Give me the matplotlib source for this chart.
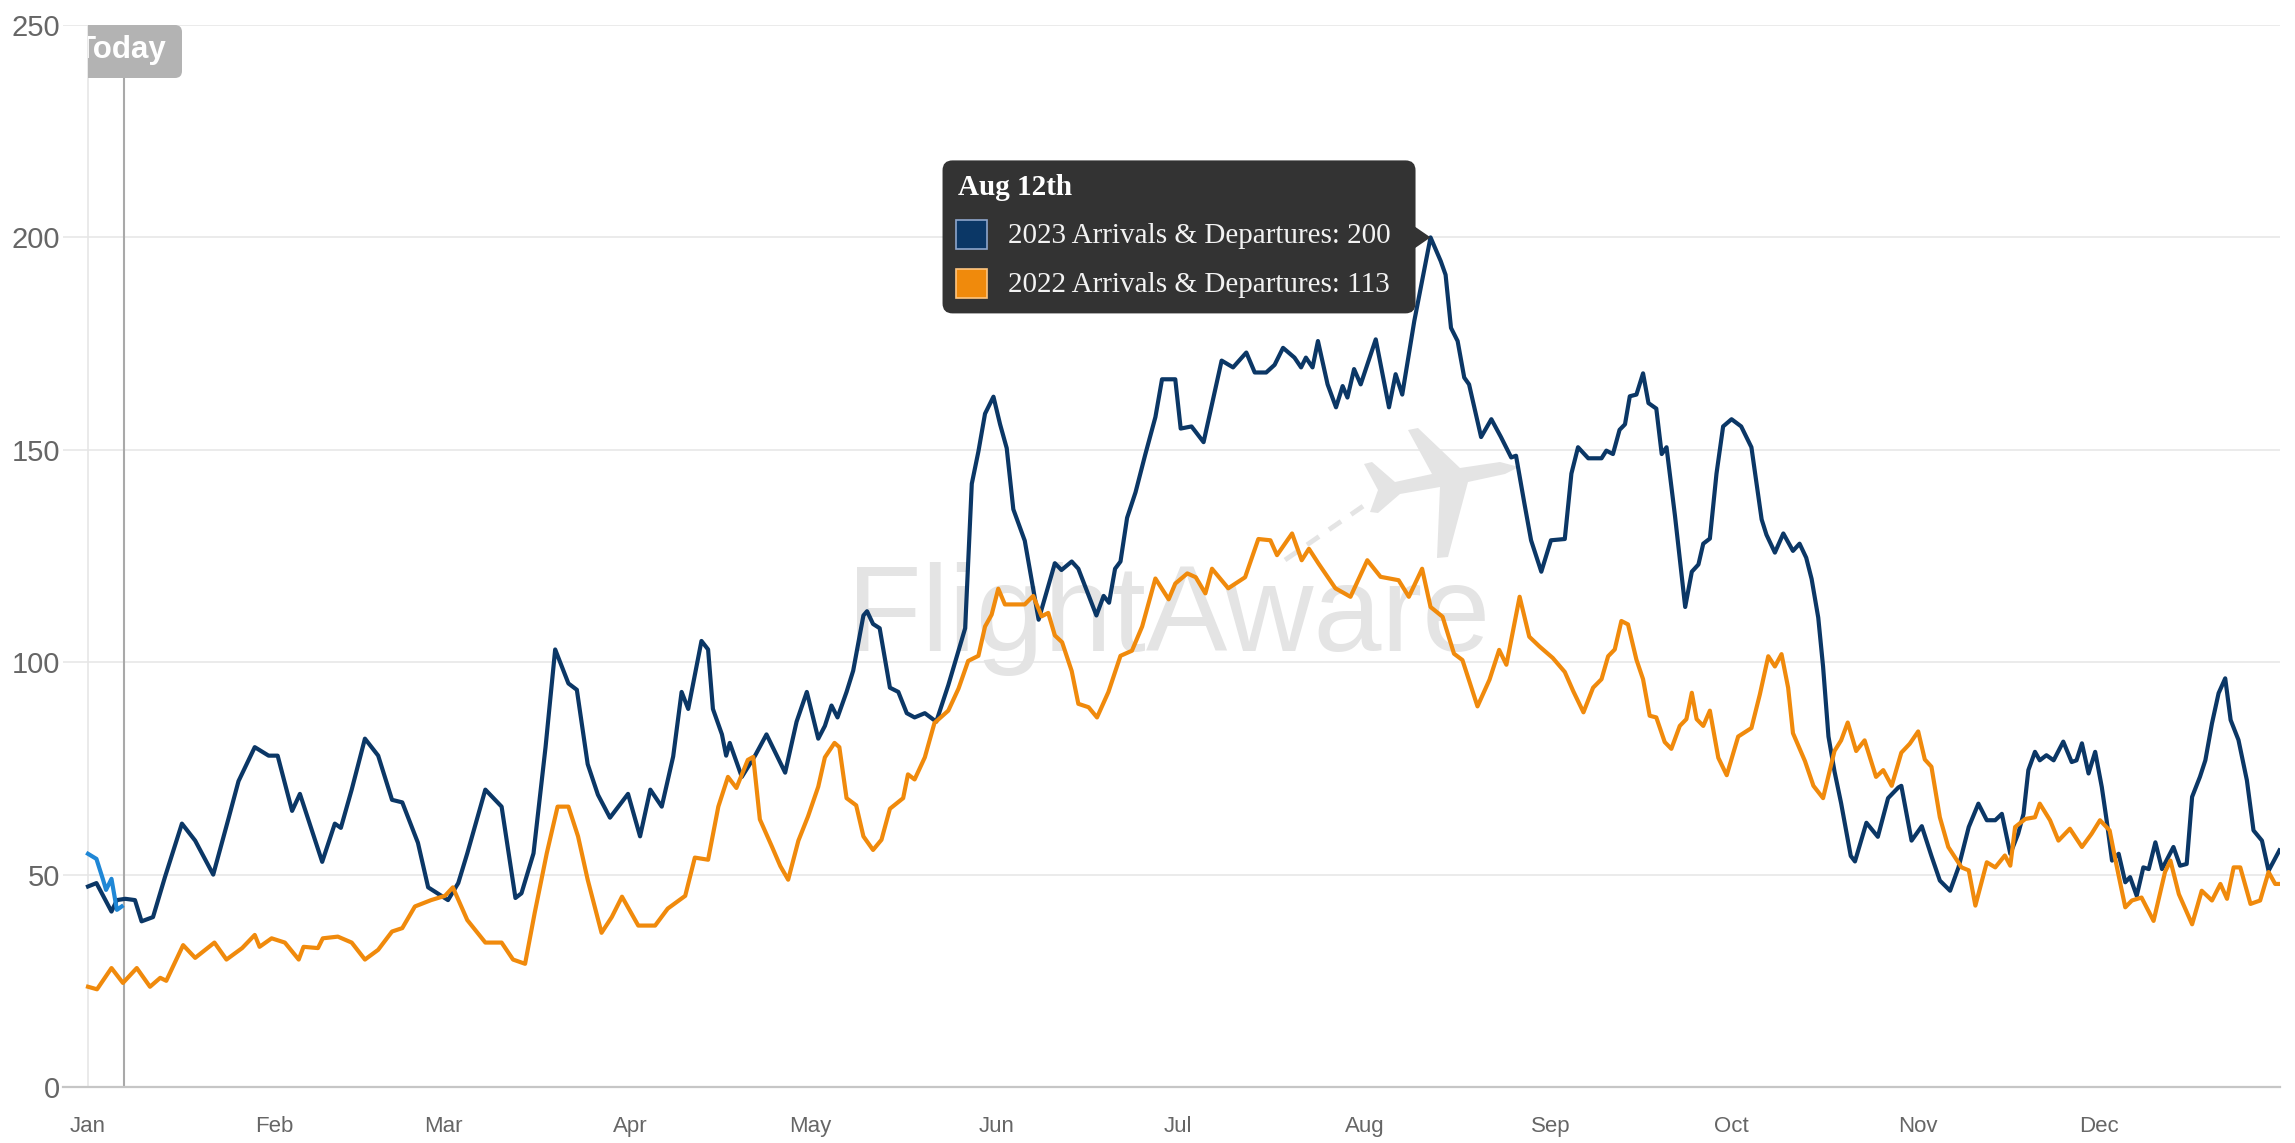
import matplotlib
matplotlib.use('Agg')
import matplotlib.pyplot as plt
from matplotlib.patches import FancyBboxPatch, Polygon, Rectangle
from matplotlib.lines import Line2D
from matplotlib.transforms import IdentityTransform, Bbox

W, H = 2295, 1143
DPI = 100

month_labels = ['Jan', 'Feb', 'Mar', 'Apr', 'May', 'Jun',
                'Jul', 'Aug', 'Sep', 'Oct', 'Nov', 'Dec']
month_starts = [0, 31, 59, 90, 120, 151, 181, 212, 243, 273, 304, 334]
y_ticks = [0, 50, 100, 150, 200, 250]

# 2023 arrivals & departures (day of year, count)
days_2023 = [0, 1.4, 3.9, 4.8, 6.2, 7.8, 8.9, 10.8, 12.8, 15.6, 17.8, 20.8, 23.3, 25, 27.7, 30, 31.5,
             33.9, 35.2, 38.9, 41, 42, 43.8, 46, 48.2, 50.5, 52.2, 54.8, 56.5, 59.8, 61.5, 63, 66,
             68.7, 71, 72, 74, 76, 77.6, 79.8, 81.2, 83, 84.7, 86.7, 89.7, 91.7, 93.4, 95.3, 97.2,
             98.6, 99.7, 101.9, 103, 103.8, 105.3, 106, 106.6, 108.6, 110.8, 112.7, 115.8, 117.7,
             119.4, 121.3, 122.4, 123.5, 124.5, 126, 127.1, 128.8, 129.4, 130.4, 131.5, 133.2,
             134.6, 136, 137.3, 139, 140.9, 142.9, 144.6, 145.7, 146.8, 147.9, 149, 150.4, 151.5,
             152.6, 153.7, 155.6, 157.9, 160.6, 161.7, 163.4, 164.5, 167.5, 168.7, 169.6, 170.6,
             171.5, 172.6, 174, 175.6, 177.3, 178.4, 180.6, 181.5, 183.3, 185.3, 186.7, 188.3,
             190.2, 192.4, 193.8, 195.7, 197.1, 198.5, 200.4, 201.5, 202.3, 203.4, 204.3, 205.9,
             207.3, 208.4, 209.2, 210.3, 211.4, 213.9, 216.1, 217.2, 218.3, 220.3, 221.9, 223,
             224.7, 225.5, 226.4, 227.5, 228.6, 229.4, 231.4, 233.1, 234.7, 236.4, 237.2, 238.6,
             239.7, 241.4, 243, 245.3, 246.4, 247.5, 249.2, 251.4, 252.2, 253.3, 254.4, 255.3,
             256.1, 257.2, 258.3, 259.2, 260.5, 261.4, 262.2, 263.6, 265.3, 266.4, 267.5, 268.3,
             269.4, 270.5, 271.6, 273, 274.6, 276.3, 278, 278.8, 280.2, 281.6, 283.2, 284.3,
             285.4, 286.3, 287.4, 288.2, 289.1, 290.1, 291.2, 292.8, 293.5, 295.4, 297.3, 299,
             300.7, 301.2, 302.9, 304.6, 306.2, 307.6, 309.3, 310.7, 312.4, 314, 315.4, 316.8,
             317.9, 319.3, 320.6, 321.5, 322.3, 323.4, 324.2, 325.3, 326.5, 328.1, 329.5, 330.3,
             331.2, 332.3, 333.4, 334.5, 335.3, 336.2, 337.3, 338.4, 339.2, 340.3, 341.4, 342.3,
             343.4, 344.5, 346.4, 347.5, 348.6, 349.5, 350.8, 351.7, 352.8, 353.9, 355, 355.9,
             357.2, 358.6, 359.7, 361.1, 362.2, 364]
arr_2023 = [47.2, 48, 41.3, 44, 44.3, 44, 39, 40, 49.5, 62, 58, 50, 63, 72, 80, 78, 78,
            65, 69, 53, 62, 61, 70, 82, 78, 67.6, 67, 57.5, 47, 44, 48, 55, 70,
            66, 44.5, 45.6, 55, 80, 103, 95, 93.5, 76, 68.8, 63.4, 69, 59, 70, 66, 77.8,
            93, 89, 105, 103, 89, 83, 78, 81, 73, 78, 83, 74, 86,
            93, 82, 85, 89.8, 87, 93, 98, 111, 112, 109, 108, 94,
            93, 88, 87, 88, 86, 94.6, 102.7, 108, 142, 149.6, 158.5, 162.5, 156,
            150.4, 136, 128.6, 110, 123.3, 121.7, 123.7, 122, 111, 115.6, 114, 122,
            123.7, 134, 140, 148.8, 157.7, 166.6, 166.6, 155, 155.5, 151.8, 160.8, 171,
            169.4, 172.9, 168.2, 168.2, 170, 174, 171.7, 169.4, 171.7, 169.4, 175.6, 165.4,
            160, 165, 162.3, 169, 165.4, 176, 160, 167.8, 163, 180.3, 192, 200,
            194.4, 191.2, 178.7, 175.6, 167, 165.4, 153, 157.2, 153, 148.2, 148.6, 137.3,
            128.7, 121.3, 128.7, 129, 144.4, 150.6, 148, 148, 149.8, 149, 154.7, 156,
            162.6, 163, 168, 161, 159.7, 149, 150.6, 134.5, 113, 121.3, 123, 127.9,
            129.1, 144.4, 155.5, 157.2, 155.5, 150.6, 133.6, 130, 125.8, 130.3, 126.2, 127.9,
            124.6, 119.6, 110.5, 99, 82.5, 74.3, 66.8, 54.4, 53.1, 62.2, 58.9, 68,
            70.5, 70.9, 58, 61.4, 54.4, 48.6, 46.2, 51.7, 61.2, 66.7, 62.8, 62.8,
            64.3, 54.9, 59.6, 64.3, 74.6, 78.9, 76.9, 78.1, 76.9, 81.3, 76.5, 76.9,
            80.9, 73.8, 78.9, 70.6, 62.8, 53.3, 54.9, 48.2, 49.4, 45, 51.7, 51.3,
            57.6, 51.3, 56.5, 52.1, 52.5, 68.3, 73, 76.9, 85.6, 92.7, 96.2, 86.4,
            81.7, 72.2, 60.4, 58, 50.9, 55.7]

# 2022 arrivals & departures (day of year, count)
days_2022 = [0, 1.5, 3.9, 5.8, 8.1, 10.3, 12, 13, 15.8, 17.8, 21, 23, 25.6, 27.7, 28.5, 30.5,
             32.7, 35, 35.8, 38.2, 39, 41.5, 43.8, 46, 48.2, 50.5, 52.2, 54.3, 57, 59.3, 60.6,
             63, 66, 68.7, 70.6, 72.6, 74.2, 76.2, 78, 79.8, 81.4, 83, 85.3, 87, 88.7, 91.4,
             94.2, 96.3, 99.2, 100.8, 103, 104.7, 106.3, 107.7, 109.6, 110.5, 111.6, 113.6, 115,
             116.3, 118, 119.6, 121.3, 122.4, 124, 124.8, 126, 127.6, 128.8, 130.4, 131.8, 133.2,
             135.4, 136.2, 137.3, 139, 140.6, 142.9, 144.6, 146.2, 147.9, 149, 150.1, 151.2,
             152.3, 155.6, 157, 158.4, 159.5, 160.6, 161.8, 163.4, 164.5, 166.2, 167.6, 169.5,
             171.5, 173.4, 175.1, 177.3, 179.5, 180.6, 182.6, 184, 185.6, 186.7, 189.4, 192.2,
             194.4, 196.4, 197.5, 200, 201.6, 202.8, 204.4, 207.2, 209.7, 212.5, 214.7, 217.7,
             219.4, 221.6, 223, 225, 226.9, 228.3, 230.8, 232.8, 234.4, 235.6, 237.8, 239.4,
             241.1, 243.3, 245.3, 246.7, 248.4, 250, 251.4, 252.5, 253.6, 254.7, 255.8, 257.2,
             258.3, 259.4, 260.5, 261.9, 263, 264.4, 265.5, 266.4, 267.2, 268.3, 269.4, 270.8,
             272.2, 274.1, 276.3, 277.7, 279.1, 280.2, 281.3, 282.4, 283.2, 285.2, 286.6, 288.2,
             290.1, 291.2, 292.3, 293.7, 295.1, 297, 298.2, 299.6, 301.2, 302.6, 304, 305.1,
             306.2, 307.6, 309, 311.2, 312.4, 313.5, 315.4, 316.8, 318.4, 319.3, 320.1, 321.8,
             323.4, 324.2, 325.9, 327.3, 329.2, 331.2, 332.8, 334.2, 335.8, 336.9, 338.4, 339.5,
             341.1, 343.1, 345, 345.9, 347.3, 349.5, 351.1, 352.8, 354.2, 355.3, 356.4, 357.5,
             359.2, 360.8, 362.2, 363.3, 364]
arr_2022 = [23.6, 23, 28, 24.5, 28, 23.6, 25.7, 25, 33.4, 30.4, 34, 30, 32.7, 35.8, 33, 35,
            34, 30, 33, 32.7, 35, 35.4, 34, 30, 32.3, 36.6, 37.4, 42.5, 44, 45, 47,
            39.3, 34, 34, 30, 29, 41, 55, 66, 66, 59, 48.8, 36.3, 40, 44.8, 38,
            38, 42, 45, 54, 53.5, 66, 73, 70.4, 77, 77.7, 63, 56.6, 52,
            48.8, 58, 63.7, 70.7, 77.6, 81, 80, 68, 66.3, 59, 55.8, 58.2, 65.5,
            68, 73.6, 72.4, 77.6, 85.7, 88.6, 93.8, 100.3, 101.5, 108.4, 111.2, 117.3,
            113.6, 113.6, 115.6, 110.8, 111.6, 106.3, 104.7, 97.9, 90.2, 89.4, 87, 93,
            101.5, 102.7, 108.4, 119.7, 114.8, 118.5, 120.9, 120, 116.2, 122, 117.4, 120,
            129, 128.7, 125.2, 130.3, 124, 126.7, 123.2, 117.4, 115.4, 124, 120.1, 119.3,
            115.4, 122, 113, 110.7, 102, 100.5, 89.6, 95.9, 102.9, 99.4, 115.4, 106,
            103.7, 101, 97.7, 93.2, 88.2, 94, 96, 101.4, 103, 109.7, 108.9, 100.6,
            96, 87.4, 87, 81.2, 79.6, 85, 86.6, 92.8, 86.6, 85, 88.6, 77.5,
            73.4, 82.5, 84.5, 92.4, 101.4, 99, 101.9, 94, 83.3, 76.7, 70.9, 68,
            79.1, 81.6, 85.8, 79.1, 81.6, 73, 74.6, 70.9, 78.7, 80.8, 83.7, 77.1,
            75.4, 63.5, 56.5, 51.7, 51, 42.7, 52.9, 51.7, 54.5, 52.1, 61.2, 63.1,
            63.5, 66.7, 62.8, 58, 60.8, 56.5, 59.6, 62.8, 60.4, 52.5, 42.3, 43.9,
            44.6, 39.1, 50.6, 53.3, 45.4, 38.3, 46.2, 43.9, 47.8, 44.3, 51.7, 51.7,
            43.1, 43.9, 50.6, 47.8, 47.8]

# current year, only the first days so far
days_2024 = [0, 1.4, 2.5, 3, 3.9, 4.8, 5.6]
arr_2024 = [54.9, 53.7, 48.8, 46.4, 49, 41.7, 42.5]

today_day = 6
tip_day = 223
tip_title = 'Aug 12th'
tip_2023 = 200
tip_2022 = 113

NAVY = '#0b3766'
ORANGE = '#f08a0c'
LIGHT_BLUE = '#1f87d6'
GRID = '#e6e6e6'
LABEL = '#666666'
WATER = '#e4e4e4'

plt.rcParams['font.family'] = 'Liberation Sans'

fig = plt.figure(figsize=(W / DPI, H / DPI), dpi=DPI)
ax = fig.add_axes([63 / W, 1 - 1087 / H, (2280 - 63) / W, (1087 - 25) / H])
px_per_day = (2280 - 88) / 364.1
ax.set_xlim(-25 / px_per_day, 364.1)
ax.set_ylim(0, 250)

for side in ['top', 'right', 'left']:
    ax.spines[side].set_visible(False)
ax.spines['bottom'].set_color('#c6c6c6')
ax.spines['bottom'].set_linewidth(1.6)

ax.set_yticks(y_ticks)
ax.yaxis.grid(True, color=GRID, lw=1.1)
ax.set_axisbelow(True)
ax.set_xticks(month_starts, month_labels)
ax.tick_params(axis='x', length=0, pad=21, labelsize=16, labelcolor=LABEL)
ax.tick_params(axis='y', length=0, pad=2, labelsize=21, labelcolor=LABEL)

# watermark
ax.text(847, H - 651, 'FlightAware', transform=IdentityTransform(), fontsize=88,
        color=WATER, va='baseline', ha='left', zorder=0.6)
plane = [(1519, 467), (1500, 462), (1460, 468), (1418, 428), (1408, 430), (1432, 474),
         (1395, 482), (1372, 462), (1364, 464), (1378, 490), (1370, 512), (1378, 513),
         (1400, 494), (1440, 487), (1437, 558), (1448, 557), (1468, 482), (1505, 474)]
ax.add_artist(Polygon([(x, H - y) for x, y in plane], closed=True, fc=WATER, ec='none',
                      transform=IdentityTransform(), zorder=0.6))
ax.add_artist(Line2D([1285, 1372], [H - 560, H - 500], transform=IdentityTransform(),
                     color=WATER, lw=3.5, ls=(0, (3, 2.5)), zorder=0.6))

ax.axvline(0, color=GRID, lw=1.2, zorder=1)
ax.axvline(today_day, color='#a9a9a9', lw=1.5, zorder=2)

ax.plot(days_2023, arr_2023, color=NAVY, lw=3.0, zorder=3, solid_joinstyle='round')
ax.plot(days_2022, arr_2022, color=ORANGE, lw=3.0, zorder=4, solid_joinstyle='round')
ax.plot(days_2024, arr_2024, color=LIGHT_BLUE, lw=3.0, zorder=5, solid_joinstyle='round')

# "Today" flag, cut off at Jan 1
x_jan = ax.transData.transform((0, 0))[0]
clip = Bbox.from_extents(x_jan, 0, W, H)
flag = FancyBboxPatch((x_jan - 20, H - 78), 182 - x_jan + 20, 53,
                      boxstyle='round,pad=0,rounding_size=7', fc='#b3b3b3', ec='none',
                      transform=IdentityTransform())
fig.add_artist(flag)
flag.set_clip_box(clip)
t = fig.text(166, H - 58, 'Today', transform=IdentityTransform(), ha='right', va='baseline',
             fontsize=22.5, fontweight='bold', color='white')
t.set_clip_box(clip)
t.set_clip_on(True)

# tooltip pointing at the peak
tx, ty = ax.transData.transform((tip_day, tip_2023))
right = tx - 15
left = right - 473
top = ty + 77
fig.add_artist(FancyBboxPatch((left, ty - 76), 473, 153, boxstyle='round,pad=0,rounding_size=10',
                              fc='#333333', ec='none', transform=IdentityTransform()))
fig.add_artist(Polygon([(right - 1, ty + 11), (tx, ty), (right - 1, ty - 11)], closed=True,
                       fc='#333333', ec='none', transform=IdentityTransform()))
fig.text(left + 15, top - 35, tip_title, transform=IdentityTransform(), family='Liberation Serif',
         fontweight='bold', fontsize=21, color='white', va='baseline')
rows = [(NAVY, '#8ea6cc', '2023 Arrivals & Departures: %d' % tip_2023, 60, 83),
        (ORANGE, '#ffc680', '2022 Arrivals & Departures: %d' % tip_2022, 109, 132)]
for fc, ec, label, sq_top, base in rows:
    fig.add_artist(Rectangle((left + 13, top - sq_top - 29), 31, 29, fc=fc, ec=ec, lw=1.2,
                             transform=IdentityTransform()))
    fig.text(left + 65, top - base, label, transform=IdentityTransform(),
             family='Liberation Serif', fontsize=21, color='#f2f2f2', va='baseline')

fig.savefig('out.png', dpi=DPI)
